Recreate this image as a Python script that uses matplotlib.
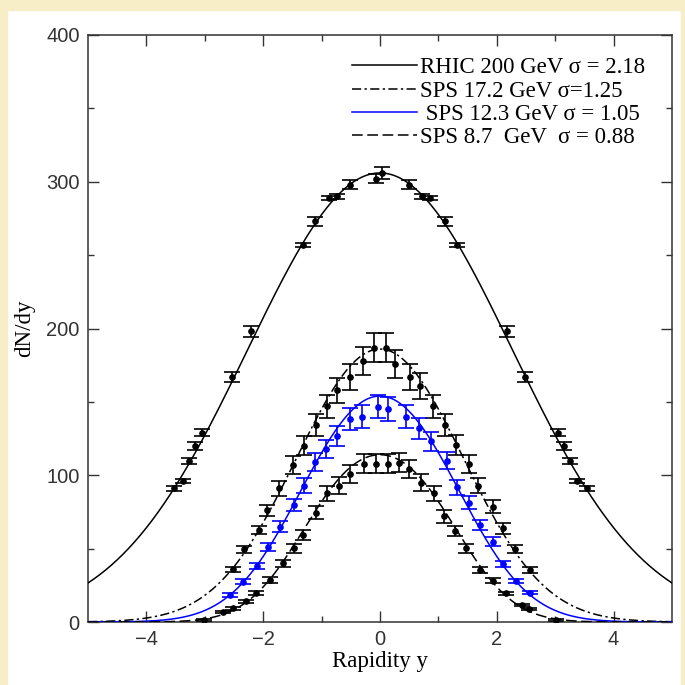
import numpy as np
import matplotlib
matplotlib.use("Agg")
import matplotlib.pyplot as plt
from matplotlib.patches import Rectangle

# fit curves: two gaussians at +-y0 with width sigma, scaled to peak height
labels = ["RHIC 200 GeV σ = 2.18", "SPS 17.2 GeV σ=1.25",
          " SPS 12.3 GeV σ = 1.05", "SPS 8.7  GeV  σ = 0.88"]
sigmas = [2.18, 1.25, 1.05, 0.88]
shifts = [0.6, 0.6, 0.65, 0.65]
peaks = [306, 186, 154, 114]

# data points
rhic_x = [-3.52, -3.37, -3.27, -3.16, -3.05, -2.53, -2.21, -1.32, -1.11, -0.87, -0.74, -0.51, -0.06,
          0.04, 0.49, 0.72, 0.86, 1.11, 1.31, 2.18, 2.49, 3.05, 3.15, 3.26, 3.37, 3.54]
rhic_v = [91, 96, 110, 120, 129, 167, 198, 257, 273, 289, 290, 298, 302,
          306, 298, 290, 289, 273, 257, 198, 167, 129, 120, 110, 96, 91]
rhic_e = [1.5, 1.5, 2, 2.5, 2.5, 3.4, 3.7, 1.5, 3.2, 1.6, 1.6, 3.2, 3,
          4.2, 3.2, 1.6, 1.6, 3.2, 1.5, 3.7, 3.4, 2.5, 2.5, 2, 1.5, 1.5]

sps172_x = [-2.52, -2.33, -2.08, -1.94, -1.73, -1.49, -1.30, -1.10, -0.91, -0.73, -0.51, -0.29, -0.11,
            0.11, 0.26, 0.51, 0.68, 0.91, 1.12, 1.30, 1.53, 1.68, 1.94, 2.10, 2.31, 2.56]
sps172_v = [36, 49.5, 62.7, 76, 91, 107, 120, 134, 147, 158, 167, 178, 187,
            187, 176, 167, 161, 147, 134, 120.6, 107.7, 93, 78.6, 63.8, 50, 35.4]
sps172_e = [1.7, 2.3, 2.8, 4, 5, 5.9, 6.5, 7.4, 8, 8.5, 9, 9.5, 10,
            10, 9.5, 9, 8.8, 8, 7.4, 6.5, 5.9, 5.1, 4.3, 3.5, 2.7, 1.9]

sps123_x = [-2.57, -2.35, -2.11, -1.91, -1.72, -1.47, -1.30, -1.12, -0.92, -0.74, -0.51, -0.30, -0.03,
            0.14, 0.45, 0.67, 0.87, 1.15, 1.32, 1.53, 1.71, 1.93, 2.11, 2.33, 2.56]
sps123_v = [18.4, 27.5, 38, 51, 65, 79.7, 93, 109, 118, 126.7, 138, 140, 146.7,
            145, 140, 132, 123, 110, 91.8, 81.3, 66, 54.7, 39.5, 28, 20]
sps123_e = [1.2, 1.6, 2.2, 2.8, 3.5, 4.3, 5, 6, 6.3, 7, 7.5, 7.7, 8,
            8, 7.7, 7.3, 6.8, 6, 5, 4.5, 3.6, 3, 2.2, 1.6, 1.2]

sps87_x = [-3.02, -2.68, -2.52, -2.30, -2.12, -1.88, -1.66, -1.47, -1.31, -1.10, -0.91, -0.70, -0.51, -0.27,
           -0.07, 0.14, 0.33, 0.50, 0.71, 0.92, 1.10, 1.28, 1.48, 1.71, 1.93, 2.16, 2.43, 2.55, 3.02]
sps87_v = [1.5, 7, 9.3, 14, 19.5, 28.6, 40, 50.2, 59.3, 74.5, 87.7, 93, 101, 107.7,
           107.7, 107.7, 108.5, 104, 95, 87.7, 72, 62, 50.2, 35.4, 28, 19.5, 11.6, 9, 1.5]
sps87_e = [0.5, 0.6, 0.8, 1, 1.3, 1.8, 2.5, 3, 3.5, 4.5, 5.2, 5.6, 6, 6.5,
           6.5, 6.5, 6.5, 6.2, 5.7, 5.2, 4.3, 3.7, 3, 2.1, 1.7, 1.2, 0.8, 0.7, 0.5]

colors = ["black", "black", "blue", "black"]
styles = ["-", (0, (6, 2.2, 1.5, 2.2)), "-", (0, (7, 3))]

fig = plt.figure(figsize=(6.85, 6.85), dpi=100)
fig.patch.set_facecolor("white")
cream = "#f7edc6"
fig.patches.append(Rectangle((0, 0), 7 / 685, 1, transform=fig.transFigure, color=cream, zorder=0))
fig.patches.append(Rectangle((0, 1 - 10 / 685), 1, 10 / 685, transform=fig.transFigure, color=cream, zorder=0))
fig.patches.append(Rectangle((1 - 4 / 685, 0), 4 / 685, 1, transform=fig.transFigure, color=cream, zorder=0))

ax = fig.add_axes([88 / 685, 63 / 685, 584 / 685, 587 / 685])

y = np.linspace(-5, 5, 400)
for s, y0, a, c, ls, lab in zip(sigmas, shifts, peaks, colors, styles, labels):
    g = np.exp(-(y - y0) ** 2 / (2 * s * s)) + np.exp(-(y + y0) ** 2 / (2 * s * s))
    g = g / (2 * np.exp(-y0 ** 2 / (2 * s * s)))
    ax.plot(y, a * g, color=c, ls=ls, lw=1.1, label=lab, zorder=3)

sets = [(rhic_x, rhic_v, rhic_e, "black"), (sps172_x, sps172_v, sps172_e, "black"),
        (sps123_x, sps123_v, sps123_e, "blue"), (sps87_x, sps87_v, sps87_e, "black")]
for xs, vs, es, c in sets:
    ax.errorbar(xs, vs, yerr=es, fmt="o", color=c, ms=3.8, elinewidth=1.2,
                capsize=5.5, capthick=1.2, zorder=4)

ax.set_xlim(-5, 5)
ax.set_ylim(0, 400)
ax.set_xticks([-4, -2, 0, 2, 4])
ax.set_xticks([-3, -1, 1, 3], minor=True)
ax.set_yticks([0, 100, 200, 300, 400])
ax.set_yticks([50, 150, 250, 350], minor=True)
ax.tick_params(which="both", direction="in", top=True, right=True, colors="#333333",
               labelsize=14.5, pad=6)
ax.tick_params(which="major", length=8, width=1)
ax.tick_params(which="minor", length=4, width=1)
for lab in ax.get_xticklabels() + ax.get_yticklabels():
    lab.set_family("Liberation Sans")
for sp in ax.spines.values():
    sp.set_color("#333333")
    sp.set_linewidth(1.1)

ax.set_xlabel("Rapidity y", family="Liberation Serif", fontsize=16.5, labelpad=1)
ax.set_ylabel("dN/dy", family="Liberation Serif", fontsize=16.5, labelpad=8)

ax.legend(loc="upper left", bbox_to_anchor=(0.452, 0.962), frameon=False,
          prop={"family": "Liberation Serif", "size": 16.5}, handlelength=2.85,
          handletextpad=0.1, labelspacing=0.1, borderpad=0, borderaxespad=0)

plt.savefig("out.png", dpi=100)
